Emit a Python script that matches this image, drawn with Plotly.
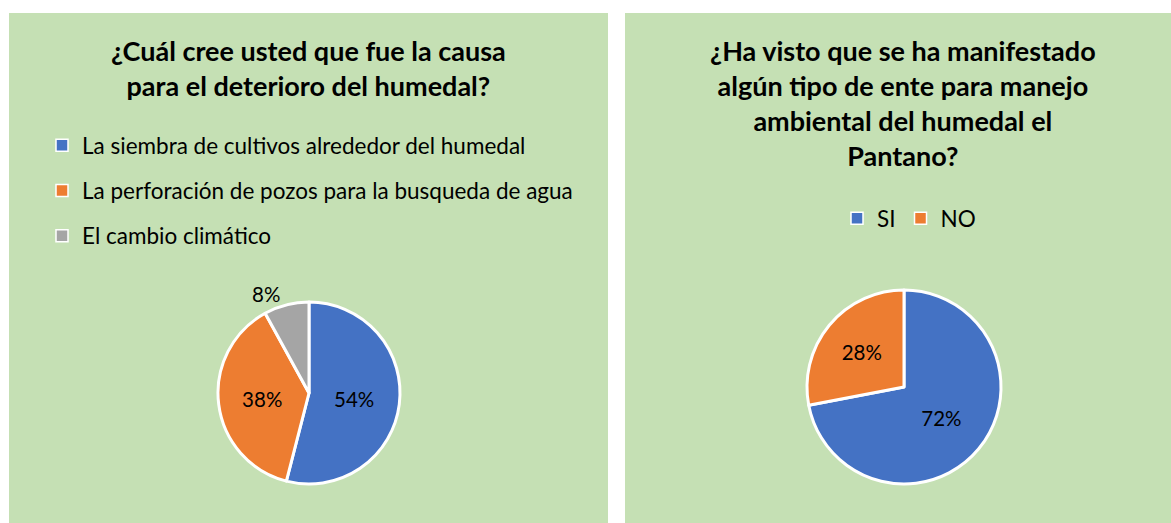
import plotly.graph_objects as go

W, H = 1171, 523

# Data
cause_labels = ["La siembra de cultivos alrededor del humedal",
                "La perforación de pozos para la busqueda de agua",
                "El cambio climático"]
cause_values = [54, 38, 8]
ente_labels = ["SI", "NO"]
ente_values = [72, 28]

title_left = "¿Cuál cree usted que fue la causa<br>para el deterioro del humedal?"
title_right = ("¿Ha visto que se ha manifestado<br>algún tipo de ente para manejo"
               "<br>ambiental del humedal el<br>Pantano?")

colors3 = ["#4472C4", "#ED7D31", "#A5A5A5"]
colors2 = ["#4472C4", "#ED7D31"]
BG = "#C5E0B4"
FONT = "Lato"

def px(x0, x1):
    return [x0 / W, x1 / W]

def py(top, bottom):
    return [1 - bottom / H, 1 - top / H]

fig = go.Figure()

fig.add_trace(go.Pie(
    labels=cause_labels, values=cause_values,
    sort=False, direction="clockwise", rotation=0,
    marker=dict(colors=colors3, line=dict(color="white", width=3)),
    texttemplate="%{value}%", textposition=["inside", "inside", "outside"],
    textfont=dict(family=FONT, size=20.5, color="black"),
    insidetextorientation="horizontal",
    domain=dict(x=px(218, 400), y=py(302, 484)),
    showlegend=False, hoverinfo="label+percent",
))
fig.add_trace(go.Pie(
    labels=ente_labels, values=ente_values,
    sort=False, direction="clockwise", rotation=0,
    marker=dict(colors=colors2, line=dict(color="white", width=3)),
    texttemplate="%{value}%", textposition="inside",
    textfont=dict(family=FONT, size=20.5, color="black"),
    insidetextorientation="horizontal",
    domain=dict(x=px(807, 1001), y=py(289, 485)),
    showlegend=False, hoverinfo="label+percent",
))

# legend entries
for i, (lab, c) in enumerate(zip(cause_labels, colors3)):
    fig.add_trace(go.Scatter(
        x=[None], y=[None], mode="markers", name=lab,
        marker=dict(symbol="square", size=12, color=c, line=dict(color="white", width=1.5)),
        legend="legend", legendgroup="c%d" % i, hoverinfo="skip",
    ))
for i, (lab, c) in enumerate(zip(ente_labels, colors2)):
    fig.add_trace(go.Scatter(
        x=[None], y=[None], mode="markers", name=lab,
        marker=dict(symbol="square", size=12, color=c, line=dict(color="white", width=1.5)),
        legend="legend2", legendgroup="e%d" % i, hoverinfo="skip",
    ))

shapes = [
    dict(type="rect", xref="paper", yref="paper", x0=9 / W, x1=608 / W, y0=0, y1=1 - 13 / H,
         fillcolor=BG, line=dict(width=0), layer="below"),
    dict(type="rect", xref="paper", yref="paper", x0=625 / W, x1=1, y0=0, y1=1 - 13 / H,
         fillcolor=BG, line=dict(width=0), layer="below"),
]

annotations = [
    dict(text="<b>" + title_left + "</b>", x=308 / W, y=1 - 32 / H, xref="paper", yref="paper",
         xanchor="center", yanchor="top", showarrow=False, align="center",
         font=dict(family=FONT, size=27, color="black")),
    dict(text="<b>" + title_right + "</b>", x=903 / W, y=1 - 32 / H, xref="paper", yref="paper",
         xanchor="center", yanchor="top", showarrow=False, align="center",
         font=dict(family=FONT, size=27, color="black")),
]

fig.update_layout(
    width=W, height=H,
    margin=dict(l=0, r=0, t=0, b=0),
    paper_bgcolor="white", plot_bgcolor="rgba(0,0,0,0)",
    xaxis=dict(visible=False), yaxis=dict(visible=False),
    shapes=shapes, annotations=annotations,
    font=dict(family=FONT, color="black"),
    legend=dict(x=42 / W, y=1 - 124 / H, xanchor="left", yanchor="top",
                orientation="v", traceorder="grouped", tracegroupgap=13,
                bgcolor="rgba(0,0,0,0)", font=dict(family=FONT, size=22.5, color="black")),
    legend2=dict(x=909 / W, y=1 - 197 / H, xanchor="center", yanchor="top",
                 orientation="h", bgcolor="rgba(0,0,0,0)",
                 font=dict(family=FONT, size=22.5, color="black")),
)

fig.write_html("out.html", config={"displayModeBar": False},
               post_script="document.body.style.margin='0';document.body.style.padding='0';")
